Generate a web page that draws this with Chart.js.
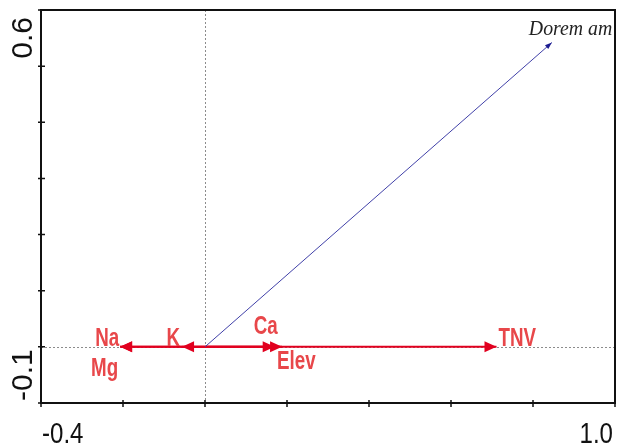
<!DOCTYPE html>
<html>
<head>
<meta charset="utf-8">
<script src="https://cdn.jsdelivr.net/npm/chart.js@4/dist/chart.umd.min.js"></script>
<style>
  html, body { margin: 0; padding: 0; background: #fff; }
  #wrap { width: 619px; height: 446px; }
</style>
</head>
<body>
<div id="wrap"><canvas id="myChart"></canvas></div>
<script>
// biplot scores (axis 1, axis 2)
const arrowNames = ['Dorem am', 'TNV', 'Elev', 'Ca', 'K', 'Na', 'Mg'];
const axis1 = [0.846, 0.711, 0.188, 0.170, -0.056, -0.207, -0.207];
const axis2 = [0.542, 0, 0, 0, 0, 0, 0];
const xRange = [-0.4, 1.0];
const yRange = [-0.1, 0.6];

// label placement relative to arrow tip: [dx, dy, align]
const labelPlace = [
  [-23, -8, 'left'],
  [2, -1, 'left'],
  [-5, 22, 'left'],
  [-21, -13, 'left'],
  [-2, -1, 'right'],
  [-1, -1, 'right'],
  [-2, 29, 'right']
];

const RED = '#e1001f';
const RED_TXT = '#e8474a';
const BLUE = '#4040a8';

function squeezedText(ctx, txt, x, y, align, sx) {
  ctx.save();
  ctx.translate(x, y);
  ctx.scale(sx, 1);
  ctx.textAlign = align;
  ctx.textBaseline = 'alphabetic';
  ctx.fillText(txt, 0, 0);
  ctx.restore();
}

const biplotDecor = {
  id: 'biplotDecor',
  beforeDatasetsDraw(chart) {
    const ctx = chart.ctx;
    const xs = chart.scales.x, ys = chart.scales.y;
    const a = chart.chartArea;
    const x0 = xs.getPixelForValue(0), y0 = ys.getPixelForValue(0);
    ctx.save();
    ctx.strokeStyle = '#8c8c8c';
    ctx.lineWidth = 1;
    ctx.setLineDash([2, 2]);
    ctx.beginPath();
    ctx.moveTo(Math.round(x0) + 0.5, a.top);
    ctx.lineTo(Math.round(x0) + 0.5, a.bottom);
    ctx.moveTo(a.left, Math.round(y0) + 0.5);
    ctx.lineTo(a.right, Math.round(y0) + 0.5);
    ctx.stroke();
    ctx.restore();
  },
  afterDatasetsDraw(chart) {
    const ctx = chart.ctx;
    const xs = chart.scales.x, ys = chart.scales.y;
    const a = chart.chartArea;

    // arrow heads
    chart.data.datasets.forEach((ds, i) => {
      const pts = chart.getDatasetMeta(i).data;
      const p0 = pts[0], p1 = pts[1];
      const ang = Math.atan2(p1.y - p0.y, p1.x - p0.x);
      const len = ds.headLen, hw = ds.headHalf;
      ctx.save();
      ctx.translate(p1.x, p1.y);
      ctx.rotate(ang);
      ctx.fillStyle = ds.headColor;
      ctx.beginPath();
      ctx.moveTo(0, 0);
      ctx.lineTo(-len, -hw);
      ctx.lineTo(-len, hw);
      ctx.closePath();
      ctx.fill();
      ctx.restore();
    });

    // arrow labels
    arrowNames.forEach((name, i) => {
      const px = xs.getPixelForValue(axis1[i]);
      const py = ys.getPixelForValue(axis2[i]);
      const pl = labelPlace[i];
      if (i === 0) {
        ctx.fillStyle = '#222';
        ctx.font = 'italic 22px "Liberation Serif", "DejaVu Serif", serif';
        squeezedText(ctx, name, px + pl[0], py + pl[1], pl[2], 0.9);
      } else {
        ctx.fillStyle = RED_TXT;
        ctx.font = 'bold 25px "Liberation Sans", Arial, sans-serif';
        squeezedText(ctx, name, px + pl[0], py + pl[1], pl[2], 0.75);
      }
    });

    // frame
    ctx.save();
    ctx.strokeStyle = '#111';
    ctx.lineWidth = 2;
    ctx.strokeRect(a.left, a.top, a.right - a.left, a.bottom - a.top);

    // tick marks crossing the axes
    ctx.lineWidth = 1.5;
    ctx.beginPath();
    xs.ticks.forEach(t => {
      const x = xs.getPixelForValue(t.value);
      ctx.moveTo(x, a.bottom - 3);
      ctx.lineTo(x, a.bottom + 4);
    });
    ys.ticks.forEach(t => {
      const y = ys.getPixelForValue(t.value);
      ctx.moveTo(a.left - 3, y);
      ctx.lineTo(a.left + 4, y);
    });
    ctx.stroke();

    // axis end labels
    ctx.fillStyle = '#111';
    ctx.font = '29px "Liberation Sans", Arial, sans-serif';
    squeezedText(ctx, xs.min.toFixed(1), a.left + 1, 443, 'left', 0.83);
    squeezedText(ctx, xs.max.toFixed(1), a.right - 2, 443, 'right', 0.83);

    ctx.font = '30px "Liberation Sans", Arial, sans-serif';
    ctx.textBaseline = 'alphabetic';
    ctx.save();
    ctx.translate(32, a.bottom - 2);
    ctx.rotate(-Math.PI / 2);
    ctx.textAlign = 'left';
    ctx.fillText(ys.min.toFixed(1), 0, 0);
    ctx.restore();
    ctx.save();
    ctx.translate(32, a.top + 7);
    ctx.rotate(-Math.PI / 2);
    ctx.textAlign = 'right';
    ctx.fillText(ys.max.toFixed(1), 0, 0);
    ctx.restore();
    ctx.restore();
  }
};

const datasets = arrowNames.map((name, i) => {
  const isSpecies = i === 0;
  return {
    label: name,
    data: [{ x: 0, y: 0 }, { x: axis1[i], y: axis2[i] }],
    showLine: true,
    borderColor: isSpecies ? BLUE : RED,
    borderWidth: isSpecies ? 1 : 2,
    pointRadius: 0,
    headColor: isSpecies ? '#1c1c90' : RED,
    headLen: isSpecies ? 7 : 12,
    headHalf: isSpecies ? 2.5 : 5.5
  };
});

new Chart(document.getElementById('myChart'), {
  type: 'scatter',
  data: { datasets: datasets },
  options: {
    responsive: true,
    maintainAspectRatio: false,
    animation: false,
    layout: { padding: { left: 0, right: 4, top: 10, bottom: 0 } },
    plugins: {
      legend: { display: false },
      tooltip: { enabled: false }
    },
    scales: {
      x: {
        type: 'linear',
        min: xRange[0],
        max: xRange[1],
        ticks: { display: false, stepSize: 0.2 },
        grid: { display: false },
        border: { display: false },
        afterFit: s => { s.height = 43; }
      },
      y: {
        type: 'linear',
        min: yRange[0],
        max: yRange[1],
        ticks: { display: false, stepSize: 0.1 },
        grid: { display: false },
        border: { display: false },
        afterFit: s => { s.width = 41; }
      }
    }
  },
  plugins: [biplotDecor]
});
</script>
</body>
</html>
